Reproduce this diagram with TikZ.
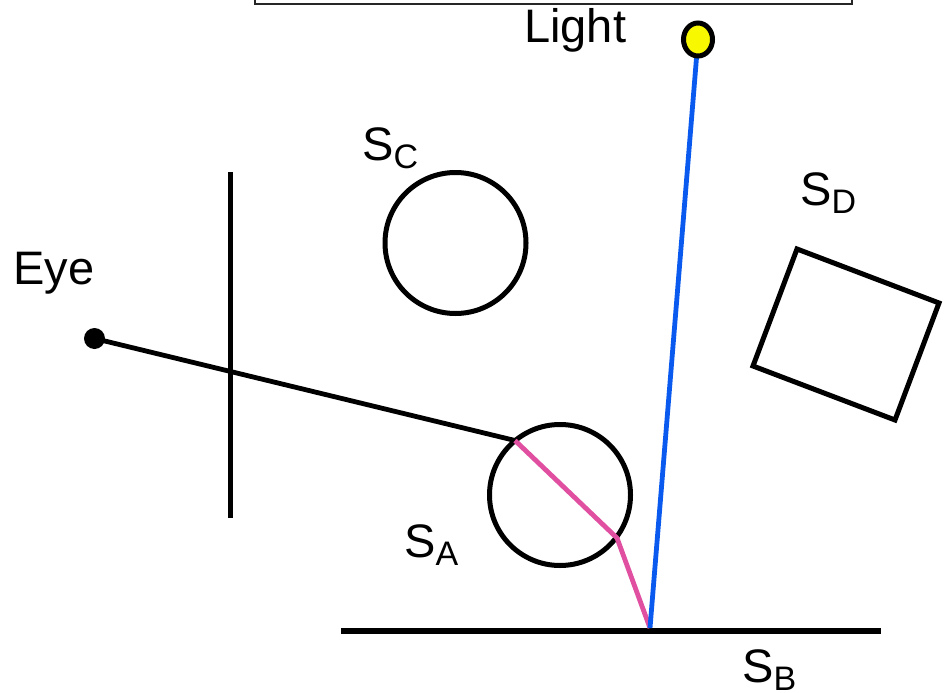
\documentclass[tikz,border=0pt]{standalone}
\usepackage{fontspec}
\setmainfont{Liberation Sans}
\usetikzlibrary{shapes.geometric}
\definecolor{pinkray}{HTML}{E04FA0}
\definecolor{blueray}{HTML}{0A5AF0}
\definecolor{bulb}{HTML}{F8F800}
\newcommand\Slab[1]{S\raisebox{-8.5pt}{\fontsize{34}{34}\selectfont #1}}
\begin{document}
\begin{tikzpicture}[x=1pt,y=-1pt,
  lbl/.style={inner sep=0pt, anchor=base west, font=\fontsize{47}{47}\selectfont},
  obj/.style={draw=black, line width=5pt},
  ray/.style={line width=4.8pt},
  ball/.style={obj, circle, inner sep=0pt, minimum size=141pt}]
\useasboundingbox (0,0) rectangle (945,693);
% top frame
\draw[black!85, line width=2.2pt] (255,-20) rectangle (852,4);
\node[lbl] (lightlbl) at (524,43) {Light};
% eye
\node[lbl] (eyelbl) at (13,284) {Eye};
\node (eye) [circle, fill=black, inner sep=0pt, minimum size=21pt] at (94.5,338.5) {};
% screen
\coordinate (scrtop) at (230.5,172);
\coordinate (scrbot) at (230.5,518);
\draw[line width=5.5pt] (scrtop) -- (scrbot);
% spheres
\node (SC) [ball] at (455.5,243) {};
\node[lbl] (SClbl) at (362,160) {\Slab{C}};
\node (SA) [ball] at (560,495) {};
\node[lbl] (SAlbl) at (404,557) {\Slab{A}};
% floor
\coordinate (floorL) at (341,631);
\coordinate (floorR) at (881,631);
\draw[line width=5.5pt] (floorL) -- (floorR);
\node[lbl] (SBlbl) at (742,682) {\Slab{B}};
% box
\coordinate (d1) at (797,249);
\coordinate (d2) at (939,303);
\coordinate (d3) at (895,420);
\coordinate (d4) at (753,366);
\draw[obj, line join=miter] (d1) -- (d2) -- (d3) -- (d4) -- cycle;
\node[lbl] (SDlbl) at (800,205) {\Slab{D}};
% rays
\coordinate (hit1) at (515,440.5);
\coordinate (hit2) at (617,538);
\coordinate (hitB) at (650,628);
\coordinate (lamp) at (698,39.5);
\draw[ray] (eye.center) -- (hit1);
\draw[ray, pinkray, line join=miter] (hit1) -- (hit2) -- (hitB);
\draw[ray, blueray] (hitB) -- (lamp);
\node (light) [draw=black, fill=bulb, line width=5pt, ellipse, inner sep=0pt, minimum width=29pt, minimum height=33pt] at (lamp) {};
\end{tikzpicture}
\end{document}
